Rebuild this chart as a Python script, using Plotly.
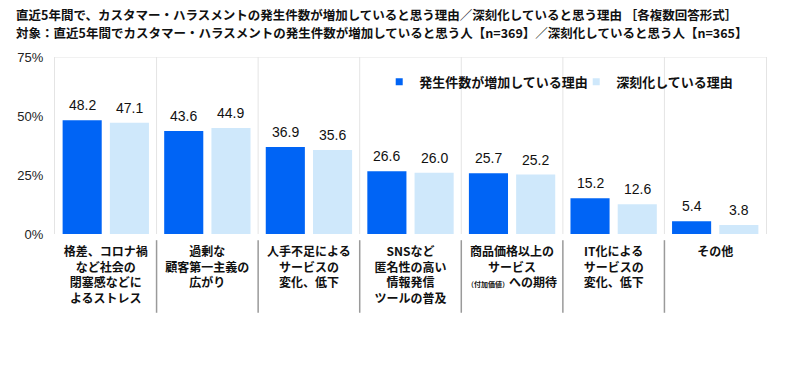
import plotly.graph_objects as go

categories = [
    "格差、コロナ禍<br>など社会の<br>閉塞感などに<br>よるストレス",
    "過剰な<br>顧客第一主義の<br>広がり",
    "人手不足による<br>サービスの<br>変化、低下",
    "SNSなど<br>匿名性の高い<br>情報発信<br>ツールの普及",
    "商品価格以上の<br>サービス<br><span style='font-size:7px'>（付加価値）</span>への期待",
    "IT化による<br>サービスの<br>変化、低下",
    "その他",
]
increase_vals = [48.2, 43.6, 36.9, 26.6, 25.7, 15.2, 5.4]
serious_vals = [47.1, 44.9, 35.6, 26.0, 25.2, 12.6, 3.8]
series_names = ["発生件数が増加している理由", "深刻化している理由"]
y_ticks = [0, 25, 50, 75]

title_line1 = "直近5年間で、カスタマー・ハラスメントの発生件数が増加していると思う理由／深刻化していると思う理由 ［各複数回答形式］"
title_line2 = "対象：直近5年間でカスタマー・ハラスメントの発生件数が増加していると思う人【n=369】／深刻化していると思う人【n=365】"

DARK = "#0064F5"
LIGHT = "#CFE8FB"
FONT = "Noto Sans CJK JP"
NUMFONT = "Liberation Sans, Arial, sans-serif"

x = list(range(len(categories)))
BAR_W = 0.385
OFFSETS = [-0.425, 0.04]

fig = go.Figure()
for vals, col, off, nm in zip([increase_vals, serious_vals], [DARK, LIGHT], OFFSETS, series_names):
    fig.add_trace(go.Bar(
        x=x, y=vals, width=BAR_W, offset=off,
        marker=dict(color=col, line=dict(width=0)),
        showlegend=False, name=nm, hoverinfo="skip",
    ))
# legend proxies
for nm, c in zip(series_names, [DARK, LIGHT]):
    fig.add_trace(go.Scatter(
        x=[None], y=[None], mode="markers", name=nm,
        marker=dict(symbol="square", size=7, color=c),
    ))

annotations = []
for vals, off in zip([increase_vals, serious_vals], OFFSETS):
    for xi, v in zip(x, vals):
        annotations.append(dict(
            x=xi + off + BAR_W / 2, y=v, xref="x", yref="y", text=f"{v:.1f}",
            showarrow=False, yanchor="middle", yshift=15,
            font=dict(family=NUMFONT, size=14, color="#111"),
        ))

shapes = []
n = len(categories)
for i in range(n - 1):
    xv = i + 0.5
    shapes.append(dict(type="line", xref="x", yref="paper", x0=xv, x1=xv, y0=0, y1=1,
                       line=dict(color="#E4E4E4", width=1), layer="below"))
    shapes.append(dict(type="line", xref="x", yref="paper", x0=xv, x1=xv, y0=-0.035, y1=-0.445,
                       line=dict(color="#9A9A9A", width=1.5)))
shapes.append(dict(type="line", xref="paper", yref="y", x0=0, x1=1, y0=y_ticks[-1], y1=y_ticks[-1],
                   line=dict(color="#E4E4E4", width=1), layer="below"))

L, R, T, B = 55, 34, 57, 138
W, H = 800, 372
pw, ph = W - L - R, H - T - B


def px_to_paper(px, py):
    return (px - L) / pw, (H - B - py) / ph


for txt, py in [(title_line1, 15), (title_line2, 33)]:
    ax, ay = px_to_paper(14, py)
    annotations.append(dict(text=f"<b>{txt}</b>", x=ax, y=ay, xref="paper", yref="paper",
                            xanchor="left", yanchor="middle", showarrow=False,
                            font=dict(family=FONT, size=12.5, color="#111")))

fig.update_layout(
    width=W, height=H,
    margin=dict(l=L, r=R, t=T, b=B),
    paper_bgcolor="white", plot_bgcolor="white",
    barmode="overlay",
    shapes=shapes,
    annotations=annotations,
    showlegend=True,
    legend=dict(orientation="h", x=0.456, xanchor="left", y=0.86, yanchor="middle",
                font=dict(family=FONT, size=13, color="#111", weight="bold"),
                itemwidth=30, bgcolor="rgba(0,0,0,0)",
                entrywidth=152, entrywidthmode="pixels"),
    xaxis=dict(range=[-0.5, n - 0.5], tickvals=x,
               ticktext=[f"<b>{c}</b>" for c in categories],
               tickfont=dict(family=FONT, size=12, color="#111"),
               ticklabelstandoff=9,
               showgrid=False, zeroline=False, showline=False, ticks="", fixedrange=True),
    yaxis=dict(range=[0, 75], tickvals=y_ticks, ticktext=[f"{v}%" for v in y_ticks],
               tickfont=dict(family=NUMFONT, size=13, color="#222"),
               ticklabelstandoff=8,
               showgrid=False, zeroline=False, showline=True, mirror=True,
               linecolor="#E4E4E4", linewidth=1, ticks="", fixedrange=True),
)

fig.write_html("out.html", config={"displayModeBar": False},
               post_script="document.body.style.margin='0';")
